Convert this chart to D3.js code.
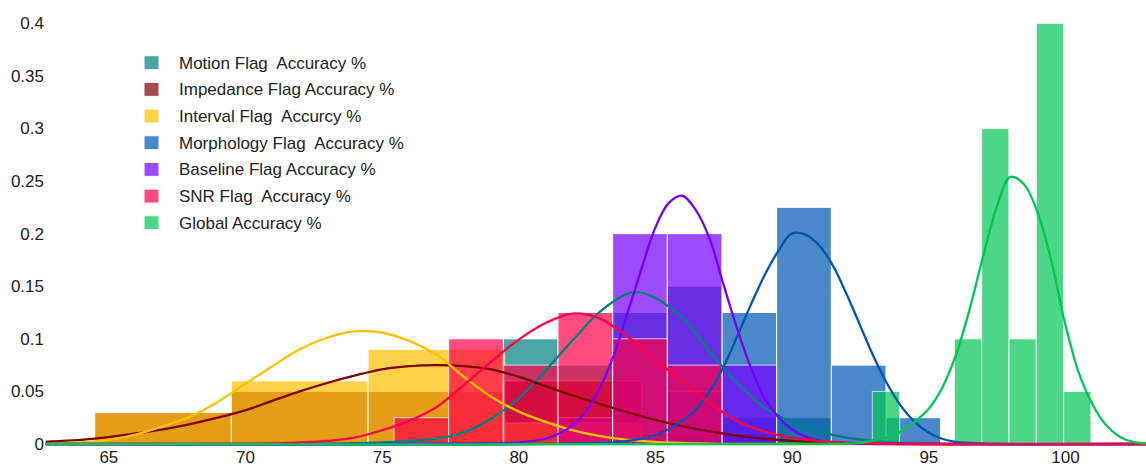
<!DOCTYPE html>
<html>
<head>
<meta charset="utf-8">
<script src="https://cdn.jsdelivr.net/npm/d3@7"></script>
<style>
  html, body { margin: 0; padding: 0; background: #fff; }
  svg { display: block; }
  text { font-family: "Liberation Sans", Arial, sans-serif; fill: #222; }
</style>
</head>
<body>
<svg id="chart" width="1146" height="467"></svg>
<script>
// ---- data ----
const seriesNames = [
  "Motion Flag  Accuracy %",
  "Impedance Flag Accuracy %",
  "Interval Flag  Accurcy %",
  "Morphology Flag  Accuracy %",
  "Baseline Flag Accuracy %",
  "SNR Flag  Accuracy %",
  "Global Accuracy %"
];

// histogram bins: first edge, bin width, normalised heights (probability density)
const binStarts = [79.45, 64.5, 64.5, 85.45, 81.45, 75.45, 92.95];
const binSizes  = [2, 5, 5, 2, 2, 2, 1];
const motionHist     = [0.1, 0.075, 0.125, 0.15, 0.025, 0.025];
const impedanceHist  = [0.03, 0.05, 0.05, 0.06, 0.01];
const intervalHist   = [0.03, 0.06, 0.09, 0.02];
const morphologyHist = [0.05, 0.125, 0.225, 0.075, 0.025];
const baselineHist   = [0.025, 0.2, 0.2, 0.075];
const snrHist        = [0.025, 0.1, 0.075, 0.125, 0.1, 0.075];
const globalHist     = [0.05, 0, 0, 0.1, 0.3, 0.1, 0.4, 0.05];

// density curves, [accuracy, density]
const motionCurve = [[62.7,0],[73,0.0003],[74,0.0008],[75,0.0015],[76,0.003],[77,0.005],[78,0.011],[79,0.024],[80,0.043],[81,0.070],[82,0.099],[83,0.126],[84,0.143],[84.5,0.144],[85,0.139],[86,0.120],[87,0.088],[88,0.058],[89,0.035],[90,0.021],[91,0.012],[92,0.006],[93,0.003],[94,0.001],[95,0.0003],[96,0],[103,0]];
const impedanceCurve = [[62.7,0.002],[63,0.0025],[64,0.004],[65,0.0065],[66,0.010],[67,0.014],[68,0.019],[69,0.025],[70,0.032],[71,0.041],[72,0.050],[73,0.058],[74,0.065],[75,0.071],[76,0.074],[77,0.075],[78,0.074],[79,0.071],[80,0.064],[81,0.055],[82,0.046],[83,0.038],[84,0.030],[85,0.023],[86,0.017],[87,0.012],[88,0.008],[89,0.005],[90,0.003],[91,0.0015],[92,0.0007],[93,0.0002],[94,0],[103,0]];
const intervalCurve = [[62.7,0],[63,0.0005],[64,0.0015],[65,0.004],[66,0.009],[67,0.017],[68,0.026],[69,0.040],[70,0.057],[71,0.074],[72,0.090],[73,0.101],[74,0.107],[75,0.106],[76,0.098],[77,0.085],[78,0.064],[79,0.045],[80,0.031],[81,0.021],[82,0.013],[83,0.0075],[84,0.004],[85,0.002],[86,0.001],[87,0.0003],[88,0],[103,0]];
const morphologyCurve = [[62.7,0],[83,0.001],[84,0.003],[85,0.008],[85.5,0.014],[86,0.022],[86.5,0.033],[87,0.050],[87.5,0.073],[88,0.102],[88.5,0.132],[89,0.160],[89.5,0.183],[90,0.200],[90.5,0.199],[91,0.189],[91.5,0.170],[92,0.143],[92.5,0.113],[93,0.083],[93.5,0.057],[94,0.036],[94.5,0.021],[95,0.011],[95.5,0.005],[96,0.002],[97,0.0005],[98,0],[103,0]];
const baselineCurve = [[62.7,0],[79,0.0005],[80,0.0015],[81,0.005],[81.5,0.010],[82,0.018],[82.5,0.032],[83,0.054],[83.5,0.085],[84,0.125],[84.5,0.166],[85,0.205],[85.5,0.229],[86,0.236],[86.5,0.222],[87,0.195],[87.5,0.152],[88,0.110],[88.5,0.073],[89,0.044],[89.5,0.026],[90,0.014],[90.5,0.007],[91,0.003],[92,0.0007],[93,0],[103,0]];
const snrCurve = [[62.7,0],[71,0.0005],[72,0.0015],[73,0.003],[74,0.006],[75,0.013],[76,0.022],[77,0.035],[78,0.056],[79,0.078],[80,0.099],[81,0.115],[82,0.124],[83,0.119],[84,0.102],[85,0.080],[86,0.060],[87,0.039],[88,0.022],[89,0.012],[90,0.006],[91,0.003],[92,0.0015],[93,0.0007],[94,0.0003],[95,0],[103,0]];
const globalCurve = [[62.7,0],[91,0],[92,0.0005],[92.5,0.001],[93,0.003],[93.5,0.006],[94,0.012],[94.5,0.021],[95,0.033],[95.5,0.053],[96,0.084],[96.5,0.127],[97,0.178],[97.5,0.225],[98,0.254],[98.5,0.247],[99,0.220],[99.5,0.174],[100,0.115],[100.5,0.068],[101,0.038],[101.5,0.018],[102,0.007],[102.5,0.002],[103,0.0005]];

const xTicks = [65, 70, 75, 80, 85, 90, 95, 100];
const yTicks = [0, 0.05, 0.1, 0.15, 0.2, 0.25, 0.3, 0.35, 0.4];
const yTickLabels = ["0", "0.05", "0.1", "0.15", "0.2", "0.25", "0.3", "0.35", "0.4"];

// ---- style ----
const colors = ["#008080", "#800000", "#ffc000", "#0056b5", "#7400ff", "#ff0048", "#00c752"];
const hists = [motionHist, impedanceHist, intervalHist, morphologyHist, baselineHist, snrHist, globalHist];
const curves = [motionCurve, impedanceCurve, intervalCurve, morphologyCurve, baselineCurve, snrCurve, globalCurve];

const W = 1146, H = 467;
const margin = { left: 45.5, right: 0, top: 2.2, bottom: 23 };

const svg = d3.select("#chart");
svg.append("rect").attr("width", W).attr("height", H).attr("fill", "#fff");

const x = d3.scaleLinear().domain([62.7, 103]).range([margin.left, 1147]);
const y = d3.scaleLinear().domain([0, 0.42]).range([H - margin.bottom, margin.top]);

svg.append("defs").append("clipPath").attr("id", "plot")
  .append("rect").attr("x", margin.left).attr("y", 0)
  .attr("width", W - margin.left).attr("height", H - margin.bottom + 3);

// histograms, overlaid in series order
const barLayer = svg.append("g").attr("clip-path", "url(#plot)");
hists.forEach((heights, i) => {
  const bins = heights.map((h, j) => ({
    x0: binStarts[i] + j * binSizes[i],
    x1: binStarts[i] + (j + 1) * binSizes[i],
    h
  })).filter(d => d.h > 0);
  barLayer.append("g")
    .selectAll("rect")
    .data(bins)
    .join("rect")
    .attr("x", d => x(d.x0))
    .attr("width", d => x(d.x1) - x(d.x0))
    .attr("y", d => y(d.h))
    .attr("height", d => y(0) - y(d.h))
    .attr("fill", colors[i])
    .attr("stroke", "#fff")
    .attr("stroke-width", 1)
    .attr("opacity", 0.7);
});

// density curves on top
const line = d3.line()
  .x(d => x(d[0]))
  .y(d => y(Math.max(0, d[1])))
  .curve(d3.curveCatmullRom.alpha(0.5));
const curveLayer = svg.append("g").attr("clip-path", "url(#plot)");
curves.forEach((pts, i) => {
  curveLayer.append("path")
    .datum(pts)
    .attr("d", line)
    .attr("fill", "none")
    .attr("stroke", colors[i])
    .attr("stroke-width", 2.3)
    .attr("stroke-linejoin", "round");
});

// axes
const xAxis = svg.append("g")
  .attr("transform", `translate(0,${y(0)})`)
  .call(d3.axisBottom(x).tickValues(xTicks).tickSize(0).tickPadding(7).tickFormat(d3.format("d")));
xAxis.select(".domain").remove();
xAxis.selectAll("text").style("font-size", "17px").attr("fill", "#222");

const yAxis = svg.append("g")
  .attr("transform", `translate(${margin.left - 0.5},0)`)
  .call(d3.axisLeft(y).tickValues(yTicks).tickSize(0).tickPadding(1)
    .tickFormat((d, i) => yTickLabels[i]));
yAxis.select(".domain").remove();
yAxis.selectAll("text").style("font-size", "17px").attr("fill", "#222");

// legend
const legend = svg.append("g").attr("transform", "translate(144,62.7)");
seriesNames.forEach((name, i) => {
  const row = legend.append("g").attr("transform", `translate(0,${i * 26.67})`);
  row.append("rect")
    .attr("x", 0).attr("y", -7)
    .attr("width", 15).attr("height", 14)
    .attr("fill", colors[i])
    .attr("stroke", "#fff").attr("stroke-width", 1)
    .attr("opacity", 0.7);
  row.append("text")
    .attr("x", 35).attr("y", 0).attr("dy", "0.35em")
    .style("font-size", "17px")
    .style("white-space", "pre")
    .attr("xml:space", "preserve")
    .text(name);
});
</script>
</body>
</html>
